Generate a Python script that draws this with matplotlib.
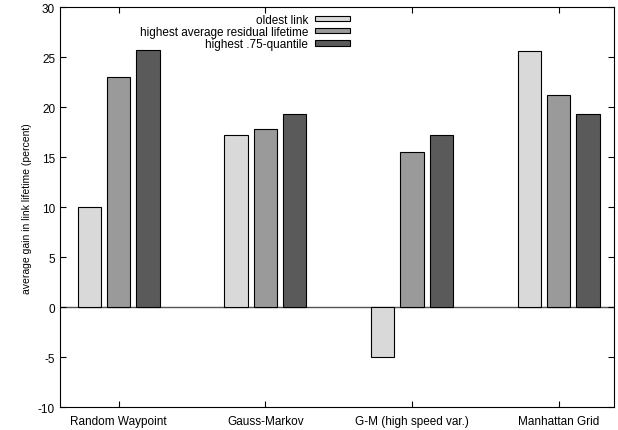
import numpy as np
import matplotlib
matplotlib.use('Agg')
import matplotlib.pyplot as plt

plt.rcParams['font.family'] = ['Liberation Sans', 'DejaVu Sans']
plt.rcParams['axes.unicode_minus'] = False

# data
categories = ['Random Waypoint', 'Gauss-Markov', 'G-M (high speed var.)', 'Manhattan Grid']
series = ['oldest link', 'highest average residual lifetime', 'highest .75-quantile']
oldest = [10.0, 17.2, -5.0, 25.6]
avg_residual = [23.0, 17.8, 15.5, 21.2]
quantile75 = [25.7, 19.3, 17.2, 19.3]
colors = ['#d9d9d9', '#9a9a9a', '#5a5a5a']

fig = plt.figure(figsize=(6.18, 4.31), dpi=100)
ax = fig.add_axes([0.097, 0.053, 0.897, 0.928])

x = np.arange(len(categories))
width = 0.16
step = 0.2
for i, (vals, c, name) in enumerate(zip([oldest, avg_residual, quantile75], colors, series)):
    ax.bar(x + (i - 1) * step, vals, width, color=c, edgecolor='black', linewidth=0.8, label=name)

# zero axis
ax.axhline(0, color='#555555', linewidth=1.0, zorder=0)

ax.set_xlim(-0.4, 3.38)
ax.set_ylim(-10, 30)
ax.set_yticks(np.arange(-10, 31, 5))
ax.set_xticks(x)
ax.set_xticklabels(categories)
ax.tick_params(direction='in', top=True, right=True, labelsize=8.5, length=4, width=0.8)
ax.tick_params(axis='x', pad=6)
for s in ax.spines.values():
    s.set_linewidth(0.8)
ax.set_ylabel('average gain in link lifetime (percent)', fontsize=7.5)

leg = ax.legend(loc='upper left', bbox_to_anchor=(0.132, 1.0), frameon=False, markerfirst=False,
                fontsize=8.5, handlelength=3.0, handleheight=0.35, labelspacing=0.02,
                borderaxespad=0.15, handletextpad=0.6)
for t in leg.get_texts():
    t.set_ha('right')

fig.savefig('out.png', dpi=100)
